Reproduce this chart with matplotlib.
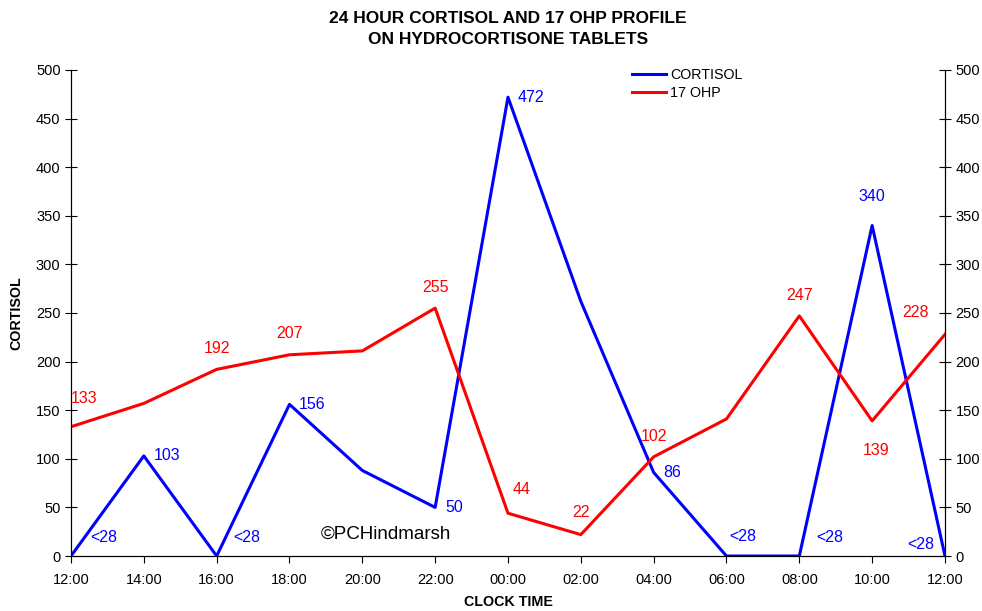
import matplotlib
matplotlib.use('Agg')
import matplotlib.pyplot as plt

plt.rcParams['font.family'] = ['Liberation Sans', 'DejaVu Sans']

TIMES    = ['12:00', '14:00', '16:00', '18:00', '20:00', '22:00', '00:00',
            '02:00', '04:00', '06:00', '08:00', '10:00', '12:00']
CORTISOL = [0, 103, 0, 156, 88, 50, 472, 262, 86, 0, 0, 340, 0]
OHP17    = [133, 157, 192, 207, 211, 255, 44, 22, 102, 141, 247, 139, 228]

CORT_LABELS = ['<28', '103', '<28', '156', '', '50', '472', '', '86', '<28', '<28', '340', '<28']
OHP_LABELS  = ['133', '', '192', '207', '', '255', '44', '22', '102', '', '247', '139', '228']

# label offsets in points (dx, dy, ha)
cort_off = [(14, 13, 'left'), (7, 0, 'left'), (12, 13, 'left'), (7, 0, 'left'), None,
            (7, 0, 'left'), (7, 0, 'left'), None, (7, 0, 'left'), (2, 14, 'left'),
            (12, 13, 'left'), (0, 21, 'center'), (-8, 8, 'right')]
ohp_off = [(0, 20, 'left'), None, (0, 15, 'center'), (0, 15, 'center'), None,
           (0, 15, 'center'), (10, 17, 'center'), (0, 16, 'center'), (0, 15, 'center'),
           None, (0, 15, 'center'), (3, -21, 'center'), (-21, 16, 'center')]

fig = plt.figure(figsize=(9.82, 6.11), dpi=100)
ax = fig.add_axes([0.0723, 0.090, 0.890, 0.7955])
x = list(range(len(TIMES)))

ax.plot(x, CORTISOL, color='#0000ff', lw=2.2, label='CORTISOL')
ax.plot(x, OHP17, color='#ff0000', lw=2.2, label='17 OHP')

for i in x:
    if cort_off[i]:
        dx, dy, ha = cort_off[i]
        ax.annotate(CORT_LABELS[i], (i, CORTISOL[i]), xytext=(dx, dy), textcoords='offset points',
                    ha=ha, va='center', color='#0000ff', fontsize=11.5)
    if ohp_off[i]:
        dx, dy, ha = ohp_off[i]
        ax.annotate(OHP_LABELS[i], (i, OHP17[i]), xytext=(dx, dy), textcoords='offset points',
                    ha=ha, va='center', color='#ff0000', fontsize=11.5)

ax.set_xlim(0, len(TIMES) - 1)
ax.set_ylim(0, 500)
ax.set_xticks(x)
ax.set_xticklabels(TIMES)
ax.set_yticks(range(0, 501, 50))
ax.spines['top'].set_visible(False)
ax.tick_params(axis='y', direction='inout', length=8, labelsize=10.5)
ax.tick_params(axis='x', direction='out', length=5, labelsize=10.5, pad=7)

ax2 = ax.twinx()
ax2.set_ylim(0, 500)
ax2.set_yticks(range(0, 501, 50))
ax2.spines['top'].set_visible(False)
ax2.tick_params(axis='y', direction='inout', length=8, labelsize=10.5)

ax.set_ylabel('CORTISOL', fontweight='bold', fontsize=10.3, labelpad=9)
ax.set_xlabel('CLOCK TIME', fontweight='bold', fontsize=10.3, labelpad=6)
ax.set_title('24 HOUR CORTISOL AND 17 OHP PROFILE\nON HYDROCORTISONE TABLETS',
             fontweight='bold', fontsize=12.5, pad=19, linespacing=1.5)

ax.text(0.36, 0.045, '©PCHindmarsh', transform=ax.transAxes, ha='center', va='center',
        fontsize=13.5)

ax.legend(loc='upper left', bbox_to_anchor=(0.627, 1.03), frameon=False, fontsize=10.3,
          handlelength=2.4, handletextpad=0.25, labelspacing=0.25)

fig.savefig('out.png', dpi=100)
